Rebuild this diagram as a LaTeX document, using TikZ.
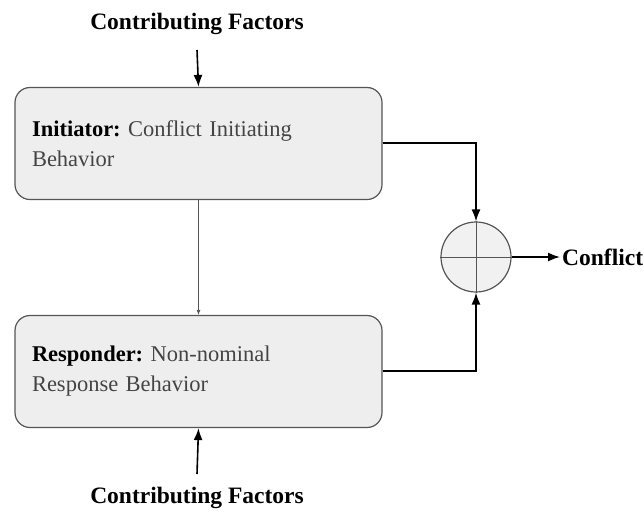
\documentclass[tikz,border=0pt]{standalone}
\usepackage{fontspec}
\setmainfont{Liberation Serif}
\usetikzlibrary{arrows.meta}
\definecolor{boxfill}{HTML}{EEEEEE}
\definecolor{boxline}{HTML}{555555}
\definecolor{txtgray}{HTML}{444444}
\frenchspacing
\begin{document}
\begin{tikzpicture}[x=1pt,y=-1pt,
  blk/.style={draw=boxline, line width=1.2pt, fill=boxfill, rounded corners=15pt,
    minimum width=367pt, minimum height=112pt, align=left, text width=333pt,
    inner xsep=17pt, font=\fontsize{22.5}{30}\selectfont, text=txtgray},
  lbl/.style={font=\fontsize{23.5}{26}\selectfont\bfseries, text=black},
  arr/.style={draw=black, line width=1.6pt, -{Latex[length=12pt,width=9pt]}},
  thin/.style={draw=boxline, line width=0.8pt, -{Latex[length=5pt,width=4pt]}}]
\useasboundingbox (0,0) rectangle (644,512);
\node[blk] (init) at (198.5,143.5) {\textcolor{black}{\bfseries Initiator:} Conflict Initiating\\Behavior};
\node[blk] (resp) at (198.5,371.5) {\textcolor{black}{\bfseries Responder:} Non-nominal\\Response Behavior};
\node[lbl] (cf1) at (197,24) {Contributing Factors};
\node[lbl] (cf2) at (197,498) {Contributing Factors};
\node[circle, draw=boxline, line width=1.2pt, fill=boxfill!80!white, minimum size=70pt, inner sep=0pt] (sum) at (476,257) {};
\draw[boxline, line width=1pt] (sum.north) -- (sum.south);
\draw[boxline, line width=1pt] (sum.west) -- (sum.east);
\node[lbl, anchor=west, inner xsep=2pt] (conf) at (560,257) {Conflict};
\coordinate (t1) at (197,50);
\coordinate (t2) at (197,474);
\draw[arr] (t1) -- (init.north);
\draw[arr] (t2) -- (resp.south);
\draw[thin] (init.south) -- (resp.north);
\draw[arr] (init.east |- 0,143) -| (sum.north);
\draw[arr] (resp.east |- 0,371) -| (sum.south);
\draw[arr] (sum.east) -- (conf.west);
\end{tikzpicture}
\end{document}
